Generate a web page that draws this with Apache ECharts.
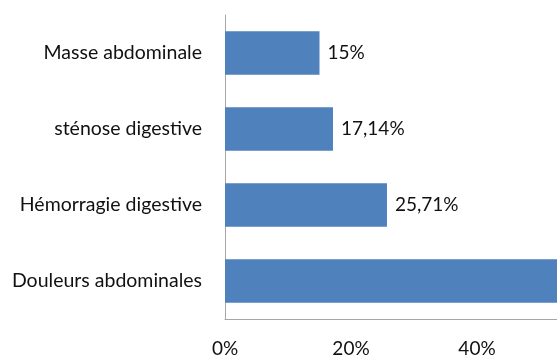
<!DOCTYPE html>
<html>
<head>
<meta charset="utf-8">
<script src="https://cdn.jsdelivr.net/npm/echarts@6/dist/echarts.min.js"></script>
<style>
html,body{margin:0;padding:0;overflow:hidden;background:#fff;width:557px;height:358px;}
#c{width:700px;height:358px;}
</style>
</head>
<body>
<div id="c"></div>
<script>
const categories = ['Douleurs abdominales', 'Hémorragie digestive', 'sténose digestive', 'Masse abdominale'];
const values = [62.86, 25.71, 17.14, 15];
const valueLabels = ['62,86%', '25,71%', '17,14%', '15%'];
const tickValues = [0, 20, 40, 60];

const chart = echarts.init(document.getElementById('c'), null, {renderer: 'canvas'});
const font = 'Lato, "Open Sans", sans-serif';
chart.setOption({
  animation: false,
  grid: {left: 225, top: 15, width: 378, height: 308, containLabel: false},
  xAxis: {
    type: 'value', min: tickValues[0], max: tickValues[tickValues.length - 1], interval: 20,
    axisLine: {show: true, lineStyle: {color: '#a6a6a6', width: 1}},
    axisTick: {show: false},
    splitLine: {show: false},
    axisLabel: {margin: 20, fontFamily: font, fontSize: 19, color: '#111', formatter: v => v + '%'}
  },
  yAxis: {
    type: 'category', data: categories,
    axisLine: {show: true, lineStyle: {color: '#a6a6a6', width: 1}},
    axisTick: {show: false},
    axisLabel: {margin: 23, fontFamily: font, fontSize: 19.5, color: '#111'}
  },
  series: [{
    type: 'bar', data: values, barCategoryGap: '43%',
    itemStyle: {color: '#4f81bd'},
    label: {show: true, position: 'right', distance: 8, fontFamily: font, fontSize: 19, color: '#111',
      formatter: p => valueLabels[p.dataIndex]}
  }]
});
</script>
</body>
</html>
